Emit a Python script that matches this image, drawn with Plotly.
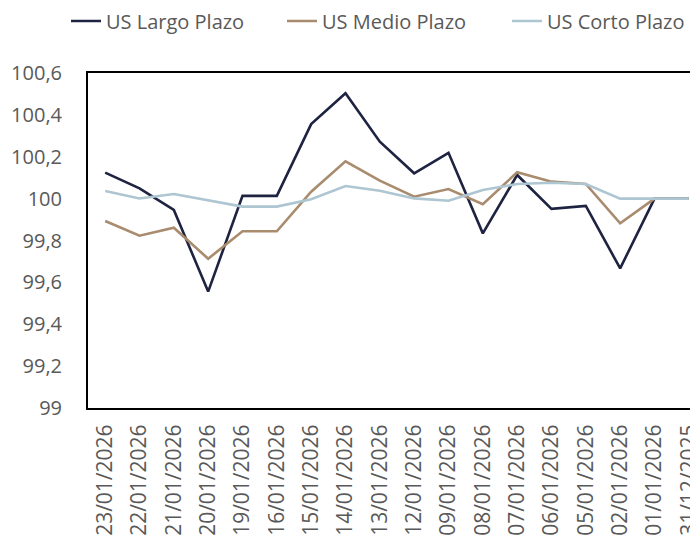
import plotly.graph_objects as go

fechas = ["23/01/2026", "22/01/2026", "21/01/2026", "20/01/2026", "19/01/2026",
          "16/01/2026", "15/01/2026", "14/01/2026", "13/01/2026", "12/01/2026",
          "09/01/2026", "08/01/2026", "07/01/2026", "06/01/2026", "05/01/2026",
          "02/01/2026", "01/01/2026", "31/12/2025"]

largo = [100.124, 100.049, 99.946, 99.556, 100.013, 100.013, 100.356, 100.503, 100.272,
         100.121, 100.219, 99.834, 100.113, 99.951, 99.965, 99.667, 100.0, 100.0]
medio = [99.893, 99.823, 99.861, 99.713, 99.844, 99.844, 100.033, 100.178, 100.086,
         100.009, 100.046, 99.973, 100.126, 100.081, 100.07, 99.882, 100.0, 100.0]
corto = [100.036, 100.001, 100.022, 99.993, 99.962, 99.962, 99.997, 100.06, 100.038,
         100.001, 99.99, 100.041, 100.07, 100.076, 100.07, 100.0, 100.0, 100.0]

series = [("US Largo Plazo", largo, "#1e2341", "legend"),
          ("US Medio Plazo", medio, "#a98b6e", "legend2"),
          ("US Corto Plazo", corto, "#adc6d2", "legend3")]

FONT = "Open Sans, Lato, sans-serif"
GRAY = "#595959"

fig = go.Figure()
for name, vals, color, lg in series:
    fig.add_trace(go.Scatter(x=fechas, y=vals, name=name, mode="lines",
                             line=dict(color=color, width=2.6), legend=lg))

W, H = 698, 539

def legend_at(px):
    return dict(orientation="h", xref="container", yref="container",
                x=px / W, y=1 - 13 / H, xanchor="left", yanchor="middle",
                font=dict(family=FONT, size=20, color=GRAY),
                bgcolor="rgba(0,0,0,0)", borderwidth=0)

fig.update_layout(
    width=W, height=H,
    margin=dict(l=80, r=0, t=65, b=139, autoexpand=False),
    paper_bgcolor="white", plot_bgcolor="white",
    separators=",.",
    showlegend=True,
    legend=legend_at(58),
    legend2=legend_at(274),
    legend3=legend_at(499),
    font=dict(family=FONT, color=GRAY),
)

fig.update_xaxes(
    type="category",
    range=[-0.5, len(fechas) - 0.5],
    automargin=False,
    showgrid=False, zeroline=False,
    showline=True, linecolor="black", linewidth=2, mirror=True,
    ticks="", tickangle=-90,
    tickfont=dict(family=FONT, size=21, color=GRAY),
    ticklabelstandoff=6,
)
fig.update_yaxes(
    range=[99, 100.6], tick0=99, dtick=0.2,
    automargin=False,
    showgrid=False, zeroline=False,
    showline=True, linecolor="black", linewidth=2,
    ticks="",
    tickfont=dict(family=FONT, size=20, color=GRAY),
    ticklabelstandoff=20,
)

fig.write_html("out.html")
